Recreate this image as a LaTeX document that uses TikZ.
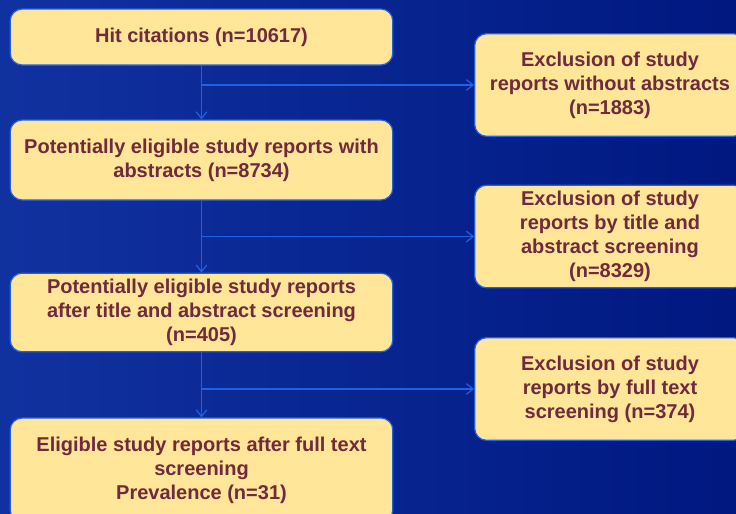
\documentclass[tikz,border=0pt]{standalone}
\usepackage{fontspec}
\setmainfont{Liberation Sans}
\usetikzlibrary{arrows.meta}
\definecolor{bgleft}{RGB}{16,50,160}
\definecolor{bgright}{RGB}{0,24,128}
\definecolor{boxfill}{RGB}{255,230,153}
\definecolor{boxtext}{RGB}{112,42,60}
\definecolor{linkblue}{RGB}{32,96,228}
\begin{document}
\begin{tikzpicture}[x=0.75pt,y=-0.75pt,
  flowbox/.style={draw=linkblue,line width=0.9pt,fill=boxfill,rounded corners=9pt,
    text=boxtext,font=\fontsize{15}{18}\selectfont\bfseries,align=center,
    inner sep=0pt,minimum width=287pt},
  exclbox/.style={flowbox,minimum width=203pt,minimum height=77pt},
  link/.style={draw=linkblue,line width=0.9pt,-{Straight Barb[length=5pt,width=8pt]}}]
  \useasboundingbox (0,0) rectangle (736,514);
  \shade[left color=bgleft,right color=bgright] (0,0) rectangle (736,514);
  % main column
  \node[flowbox,minimum height=42pt] (hit) at (201.5,37) {Hit citations (n=10617)};
  \node[flowbox,minimum height=60pt] (abstr) at (201.5,160)
    {Potentially eligible study reports with\\abstracts (n=8734)};
  \node[flowbox,minimum height=59pt] (screen) at (201.5,312.5)
    {Potentially eligible study reports\\after title and abstract screening\\(n=405)};
  \node[flowbox,minimum height=78pt] (final) at (201.5,470)
    {Eligible study reports after full text\\screening\\Prevalence (n=31)};
  % exclusions
  \node[exclbox] (excl1) at (610,85)
    {Exclusion of study\\reports without abstracts\\(n=1883)};
  \node[exclbox] (excl2) at (610,236.5)
    {Exclusion of study\\reports by title and\\abstract screening\\(n=8329)};
  \node[exclbox] (excl3) at (610,389)
    {Exclusion of study\\reports by full text\\screening (n=374)};
  % arrows
  \draw[link] (hit.south) -- (abstr.north);
  \draw[link] (abstr.south) -- (screen.north);
  \draw[link] (screen.south) -- (final.north);
  \draw[link] (hit.south |- excl1.west) -- (excl1.west);
  \draw[link] (abstr.south |- excl2.west) -- (excl2.west);
  \draw[link] (screen.south |- excl3.west) -- (excl3.west);
\end{tikzpicture}
\end{document}
